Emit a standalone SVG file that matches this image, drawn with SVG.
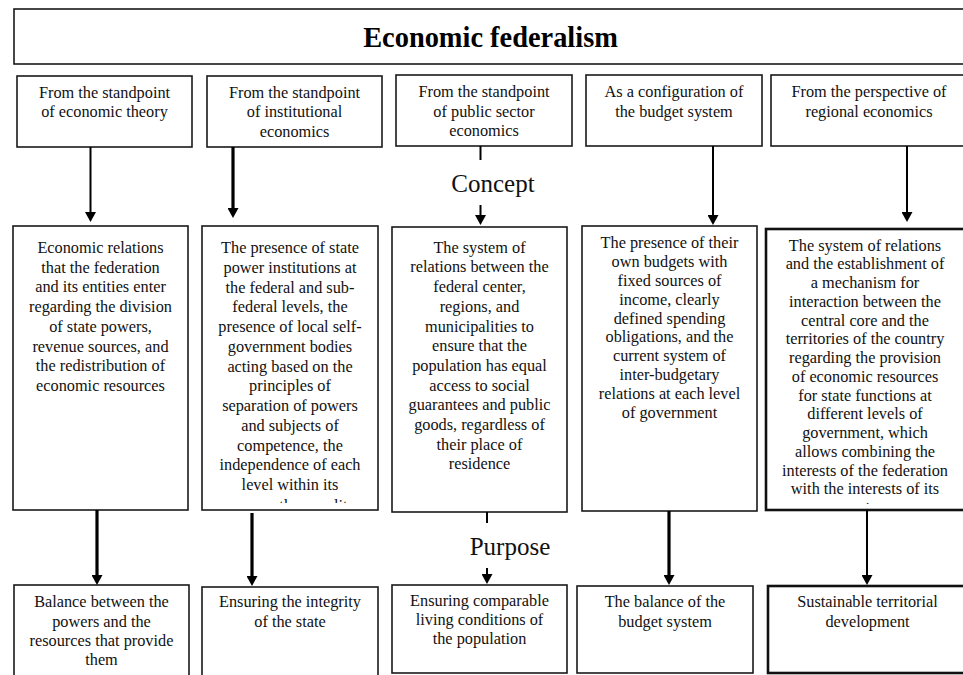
<svg xmlns="http://www.w3.org/2000/svg" width="963" height="675" viewBox="0 0 963 675">
<style>
.box{fill:#fff;stroke:#1a1a1a;stroke-width:1.6}
.boxb{fill:#fff;stroke:#111;stroke-width:2.6}
.t{font-family:'Liberation Serif','DejaVu Serif',serif;font-size:16.3px;text-anchor:middle;fill:#111}
.title{font-family:'Liberation Serif','DejaVu Serif',serif;font-size:28.4px;font-weight:bold;text-anchor:middle;fill:#000}
.lbl{font-family:'Liberation Serif','DejaVu Serif',serif;font-size:25px;text-anchor:middle;fill:#111}
.c{stroke:#000;fill:none}
.w2{stroke-width:2}
.w3{stroke-width:3.2}
</style>
<defs>
<marker id="ah" viewBox="0 0 10 11" markerWidth="10" markerHeight="11" refX="1" refY="5.5" orient="auto" markerUnits="userSpaceOnUse">
<path d="M0,0 L10,5.5 L0,11 z" fill="#000"/>
</marker>
<clipPath id="clipM2"><rect x="202" y="226" width="176" height="277"/></clipPath>
<clipPath id="clipM5"><rect x="766" y="229" width="200" height="275"/></clipPath>
</defs>
<rect width="963" height="675" fill="#fff"/>

<g id="title">
<rect class="box" x="14" y="9" width="960" height="55"/>
<text class="title" x="490.5" y="47">Economic federalism</text>
</g>

<g id="top1">
<rect class="box" x="17" y="76" width="175" height="71"/>
<text class="t"><tspan x="104.5" y="97.5">From the standpoint</tspan><tspan x="104.5" y="117">of economic theory</tspan></text>
</g>
<g id="top2">
<rect class="box" x="207" y="76" width="175" height="71"/>
<text class="t"><tspan x="294.5" y="97.5">From the standpoint</tspan><tspan x="294.5" y="117">of institutional</tspan><tspan x="294.5" y="136.5">economics</tspan></text>
</g>
<g id="top3">
<rect class="box" x="396" y="75" width="176" height="71"/>
<text class="t"><tspan x="484" y="97">From the standpoint</tspan><tspan x="484" y="116.5">of public sector</tspan><tspan x="484" y="136">economics</tspan></text>
</g>
<g id="top4">
<rect class="box" x="586" y="75" width="176" height="71"/>
<text class="t"><tspan x="674" y="97">As a configuration of</tspan><tspan x="674" y="116.5">the budget system</tspan></text>
</g>
<g id="top5">
<rect class="box" x="771" y="75" width="200" height="71"/>
<text class="t"><tspan x="869" y="97">From the perspective of</tspan><tspan x="869" y="116.5">regional economics</tspan></text>
</g>

<g id="mid1">
<rect class="box" x="13" y="226" width="175" height="284"/>
<text class="t"><tspan x="100.5" y="253">Economic relations</tspan><tspan x="100.5" y="272.7">that the federation</tspan><tspan x="100.5" y="292.4">and its entities enter</tspan><tspan x="100.5" y="312.1">regarding the division</tspan><tspan x="100.5" y="331.8">of state powers,</tspan><tspan x="100.5" y="351.5">revenue sources, and</tspan><tspan x="100.5" y="371.2">the redistribution of</tspan><tspan x="100.5" y="390.9">economic resources</tspan></text>
</g>
<g id="mid2">
<rect class="box" x="202" y="226" width="176" height="284"/>
<text class="t"><tspan x="290" y="253">The presence of state</tspan><tspan x="290" y="272.75">power institutions at</tspan><tspan x="290" y="292.5">the federal and sub-</tspan><tspan x="290" y="312.25">federal levels, the</tspan><tspan x="290" y="332">presence of local self-</tspan><tspan x="290" y="351.75">government bodies</tspan><tspan x="290" y="371.5">acting based on the</tspan><tspan x="290" y="391.25">principles of</tspan><tspan x="290" y="411">separation of powers</tspan><tspan x="290" y="430.75">and subjects of</tspan><tspan x="290" y="450.5">competence, the</tspan><tspan x="290" y="470.25">independence of each</tspan><tspan x="290" y="490">level within its</tspan></text>
<text class="t" clip-path="url(#clipM2)" x="290" y="511">powers, the equality</text>
</g>
<g id="mid3">
<rect class="box" x="392" y="227" width="175" height="285"/>
<text class="t"><tspan x="479.5" y="252.7">The system of</tspan><tspan x="479.5" y="272.4">relations between the</tspan><tspan x="479.5" y="292.1">federal center,</tspan><tspan x="479.5" y="311.8">regions, and</tspan><tspan x="479.5" y="331.5">municipalities to</tspan><tspan x="479.5" y="351.2">ensure that the</tspan><tspan x="479.5" y="370.9">population has equal</tspan><tspan x="479.5" y="390.6">access to social</tspan><tspan x="479.5" y="410.3">guarantees and public</tspan><tspan x="479.5" y="430">goods, regardless of</tspan><tspan x="479.5" y="449.7">their place of</tspan><tspan x="479.5" y="469.4">residence</tspan></text>
</g>
<g id="mid4">
<rect class="box" x="582" y="226" width="175" height="285"/>
<text class="t"><tspan x="669.5" y="248.3">The presence of their</tspan><tspan x="669.5" y="267.1">own budgets with</tspan><tspan x="669.5" y="285.9">fixed sources of</tspan><tspan x="669.5" y="304.7">income, clearly</tspan><tspan x="669.5" y="323.5">defined spending</tspan><tspan x="669.5" y="342.3">obligations, and the</tspan><tspan x="669.5" y="361.1">current system of</tspan><tspan x="669.5" y="379.9">inter-budgetary</tspan><tspan x="669.5" y="398.7">relations at each level</tspan><tspan x="669.5" y="417.5">of government</tspan></text>
</g>
<g id="mid5">
<rect class="boxb" x="766" y="229" width="200" height="281"/>
<text class="t"><tspan x="865" y="250.7">The system of relations</tspan><tspan x="865" y="269.4">and the establishment of</tspan><tspan x="865" y="288.2">a mechanism for</tspan><tspan x="865" y="306.9">interaction between the</tspan><tspan x="865" y="325.7">central core and the</tspan><tspan x="865" y="344.4">territories of the country</tspan><tspan x="865" y="363.1">regarding the provision</tspan><tspan x="865" y="381.9">of economic resources</tspan><tspan x="865" y="400.6">for state functions at</tspan><tspan x="865" y="419.4">different levels of</tspan><tspan x="865" y="438.1">government, which</tspan><tspan x="865" y="456.8">allows combining the</tspan><tspan x="865" y="475.6">interests of the federation</tspan><tspan x="865" y="494.3">with the interests of its</tspan></text>
<text class="t" clip-path="url(#clipM5)" x="865" y="513.5">units</text>
</g>

<g id="bot1">
<rect class="box" x="14" y="585" width="175" height="100"/>
<text class="t"><tspan x="101.5" y="607.3">Balance between the</tspan><tspan x="101.5" y="626.6">powers and the</tspan><tspan x="101.5" y="645.9">resources that provide</tspan><tspan x="101.5" y="665.2">them</tspan></text>
</g>
<g id="bot2">
<rect class="box" x="202" y="587" width="176" height="100"/>
<text class="t"><tspan x="290" y="607.3">Ensuring the integrity</tspan><tspan x="290" y="626.6">of the state</tspan></text>
</g>
<g id="bot3">
<rect class="box" x="392" y="585" width="175" height="88"/>
<text class="t"><tspan x="479.5" y="606">Ensuring comparable</tspan><tspan x="479.5" y="625">living conditions of</tspan><tspan x="479.5" y="644">the population</tspan></text>
</g>
<g id="bot4">
<rect class="box" x="577" y="586" width="176" height="87"/>
<text class="t"><tspan x="665" y="607.3">The balance of the</tspan><tspan x="665" y="626.6">budget system</tspan></text>
</g>
<g id="bot5">
<rect class="boxb" x="768" y="586" width="200" height="87"/>
<text class="t"><tspan x="867.5" y="607.3">Sustainable territorial</tspan><tspan x="867.5" y="626.6">development</tspan></text>
</g>

<g id="labels">
<text class="lbl" x="493" y="192">Concept</text>
<text class="lbl" x="510" y="555">Purpose</text>
</g>

<g id="connectors">
<line class="c w2" x1="90.5" y1="147" x2="90.5" y2="213" marker-end="url(#ah)"/>
<line class="c w3" x1="233" y1="147" x2="233" y2="209" marker-end="url(#ah)"/>
<line class="c w2" x1="480.5" y1="146" x2="480.5" y2="160"/>
<line class="c w2" x1="480.5" y1="205" x2="480.5" y2="216" marker-end="url(#ah)"/>
<line class="c w2" x1="713" y1="146" x2="713" y2="216" marker-end="url(#ah)"/>
<line class="c w2" x1="907" y1="146" x2="907" y2="213" marker-end="url(#ah)"/>
<line class="c w3" x1="97" y1="510" x2="97" y2="576" marker-end="url(#ah)"/>
<line class="c w3" x1="252" y1="513" x2="252" y2="577" marker-end="url(#ah)"/>
<line class="c w2" x1="487" y1="512" x2="487" y2="523"/>
<line class="c w2" x1="487" y1="568" x2="487" y2="575" marker-end="url(#ah)"/>
<line class="c w3" x1="669" y1="511" x2="669" y2="576" marker-end="url(#ah)"/>
<line class="c w2" x1="867" y1="510" x2="867" y2="576" marker-end="url(#ah)"/>
</g>
</svg>
